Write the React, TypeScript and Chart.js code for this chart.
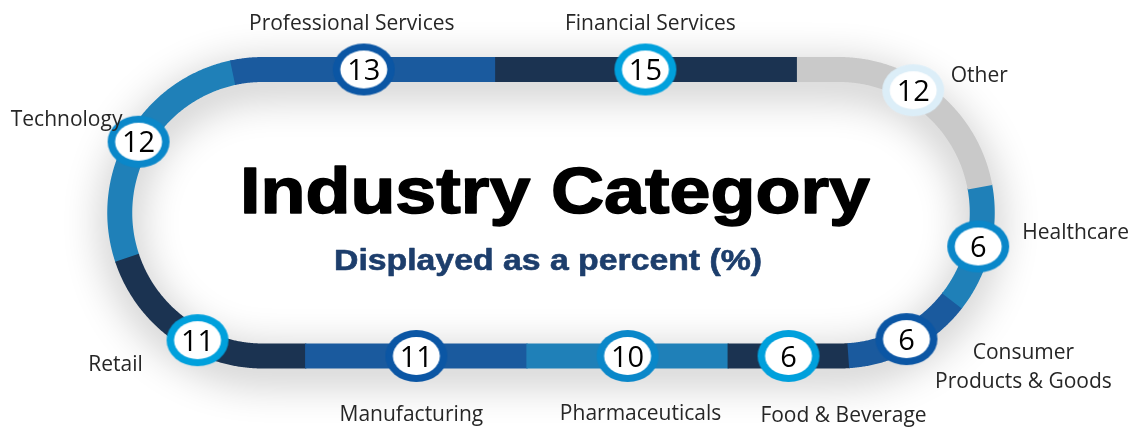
import React, { useEffect, useRef } from "react";
import { Chart, registerables } from "chart.js";

Chart.register(...registerables);

// ---------------- data ----------------
const categories: (string | string[])[] = [
  "Professional Services",
  "Financial Services",
  "Other",
  "Healthcare",
  ["Consumer", "Products & Goods"],
  "Food & Beverage",
  "Pharmaceuticals",
  "Manufacturing",
  "Retail",
  "Technology",
];
const values: number[] = [13, 15, 12, 6, 6, 6, 10, 11, 11, 12];

const titleText = "Industry Category";
const subtitleText = "Displayed as a percent (%)";

// ---------------- styles ----------------
const segmentColors = [
  "#1a5a9e", "#1b3351", "#c9c9c9", "#1f80b8", "#1a5a9e",
  "#1b3351", "#1f80b8", "#1a5a9e", "#1b3351", "#1f80b8",
];
const markerBorderColors = [
  "#0b56a4", "#00a0dc", "#dceef8", "#0a87c9", "#0b56a4",
  "#00a0dc", "#0a87c9", "#0b56a4", "#00a0dc", "#0a87c9",
];
// label placement relative to each marker (dx, dy of first baseline, alignment)
const labelOffsets: { dx: number; dy: number; align: CanvasTextAlign }[] = [
  { dx: -12, dy: -40, align: "center" },
  { dx: 5, dy: -40, align: "center" },
  { dx: 66, dy: -8, align: "center" },
  { dx: 44, dy: -7, align: "left" },
  { dx: 117, dy: 20, align: "center" },
  { dx: 55, dy: 66, align: "center" },
  { dx: 13, dy: 64, align: "center" },
  { dx: -5, dy: 65, align: "center" },
  { dx: -82, dy: 31, align: "center" },
  { dx: -72, dy: -16, align: "center" },
];

// track geometry (in scale units == pixels)
const W = 1133;
const H = 429;
const TRACK = { cxL: 263, cxR: 839, cy: 212.75, r: 143.25, width: 25, startOffset: -30 };

const STRAIGHT = TRACK.cxR - TRACK.cxL;
const ARC = Math.PI * TRACK.r;
const PERIM = 2 * STRAIGHT + 2 * ARC;

function pathPoint(sIn: number) {
  let s = ((sIn % PERIM) + PERIM) % PERIM;
  const { cxL, cxR, cy, r } = TRACK;
  if (s < STRAIGHT) return { x: cxL + s, y: cy - r };
  s -= STRAIGHT;
  if (s < ARC) {
    const t = s / r;
    return { x: cxR + r * Math.sin(t), y: cy - r * Math.cos(t) };
  }
  s -= ARC;
  if (s < STRAIGHT) return { x: cxR - s, y: cy + r };
  s -= STRAIGHT;
  const t = s / r;
  return { x: cxL - r * Math.sin(t), y: cy + r * Math.cos(t) };
}

function samplePath(s0: number, s1: number, step = 2) {
  const pts: { x: number; y: number }[] = [];
  const n = Math.max(2, Math.ceil((s1 - s0) / step));
  for (let i = 0; i <= n; i++) pts.push(pathPoint(s0 + ((s1 - s0) * i) / n));
  return pts;
}

function makeMarker(color: string) {
  const c = document.createElement("canvas");
  c.width = 64;
  c.height = 54;
  const g = c.getContext("2d")!;
  g.fillStyle = color;
  g.beginPath();
  g.ellipse(32, 27, 31, 26, 0, 0, Math.PI * 2);
  g.fill();
  g.fillStyle = "#ffffff";
  g.beginPath();
  g.ellipse(32, 27, 23.5, 19, 0, 0, Math.PI * 2);
  g.fill();
  return c;
}

export default function App() {
  const ref = useRef<HTMLCanvasElement | null>(null);

  useEffect(() => {
    document.body.style.margin = "0";
    const canvas = ref.current!;
    const total = values.reduce((a, b) => a + b, 0);
    const unit = PERIM / total;

    const segDatasets: any[] = [];
    const markerPts: { x: number; y: number }[] = [];
    let cum = 0;
    values.forEach((v, i) => {
      const s0 = TRACK.startOffset + cum * unit;
      const s1 = TRACK.startOffset + (cum + v) * unit;
      segDatasets.push({
        label: Array.isArray(categories[i]) ? (categories[i] as string[]).join(" ") : categories[i],
        data: samplePath(s0 - 0.6, s1 + 0.6),
        showLine: true,
        borderColor: segmentColors[i],
        backgroundColor: segmentColors[i],
        borderWidth: TRACK.width,
        borderCapStyle: "butt",
        borderJoinStyle: "round",
        pointRadius: 0,
        tension: 0.0001,
        clip: false,
        order: 1,
      });
      markerPts.push(pathPoint((s0 + s1) / 2));
      cum += v;
    });

    const baseTrack = {
      label: "track",
      data: samplePath(0, PERIM + 4),
      showLine: true,
      borderColor: "#6f7c88",
      borderWidth: TRACK.width - 2,
      borderJoinStyle: "round",
      pointRadius: 0,
      tension: 0.0001,
      clip: false,
      order: 2,
    };

    const markerDataset = {
      label: "markers",
      data: markerPts,
      pointStyle: markerBorderColors.map(makeMarker),
      pointRadius: 30,
      showLine: false,
      clip: false,
      order: 0,
    };

    const shadowPlugin = {
      id: "trackShadow",
      beforeDatasetDraw(chart: any, args: any) {
        if (chart.data.datasets[args.index].label === "track") {
          const ctx = chart.ctx;
          ctx.save();
          ctx.shadowColor = "rgba(0,0,0,0.32)";
          ctx.shadowBlur = 44;
          ctx.shadowOffsetY = 10;
        }
      },
      afterDatasetDraw(chart: any, args: any) {
        if (chart.data.datasets[args.index].label === "track") chart.ctx.restore();
      },
    };

    const textPlugin = {
      id: "texts",
      afterDatasetsDraw(chart: any) {
        const ctx: CanvasRenderingContext2D = chart.ctx;
        const idx = chart.data.datasets.findIndex((d: any) => d.label === "markers");
        const meta = chart.getDatasetMeta(idx);
        ctx.save();
        // numbers
        ctx.fillStyle = "#000000";
        ctx.font = '29px "Open Sans"';
        ctx.textAlign = "center";
        ctx.textBaseline = "alphabetic";
        meta.data.forEach((el: any, i: number) => {
          ctx.fillText(String(values[i]), el.x, el.y + 10.5);
        });
        // labels
        ctx.fillStyle = "#262626";
        ctx.font = '21px "Open Sans"';
        meta.data.forEach((el: any, i: number) => {
          const o = labelOffsets[i];
          ctx.textAlign = o.align;
          const lines = Array.isArray(categories[i]) ? (categories[i] as string[]) : [categories[i] as string];
          lines.forEach((ln, k) => ctx.fillText(ln, el.x + o.dx, el.y + o.dy + k * 29));
        });
        // title
        const fitText = (txt: string, font: string, color: string, cx: number, by: number, width: number, stroke: number) => {
          ctx.font = font;
          ctx.textAlign = "center";
          const w = ctx.measureText(txt).width;
          ctx.save();
          ctx.translate(cx, by);
          ctx.scale(width / w, 1);
          ctx.fillStyle = color;
          ctx.fillText(txt, 0, 0);
          if (stroke > 0) {
            ctx.strokeStyle = color;
            ctx.lineWidth = stroke;
            ctx.lineJoin = "round";
            ctx.strokeText(txt, 0, 0);
          }
          ctx.restore();
        };
        fitText(titleText, 'bold 65px "Liberation Sans"', "#000000", 555, 213, 630, 1.5);
        fitText(subtitleText, 'bold 29px "Liberation Sans"', "#1d3e6c", 548, 270, 428, 0.6);
        ctx.restore();
      },
    };

    const chart = new Chart(canvas, {
      type: "scatter",
      data: { datasets: [...segDatasets, baseTrack, markerDataset] as any },
      options: {
        animation: false,
        responsive: false,
        maintainAspectRatio: false,
        layout: { padding: 0, autoPadding: false },
        events: [],
        plugins: { legend: { display: false }, tooltip: { enabled: false }, title: { display: false } },
        scales: {
          x: { type: "linear", min: 0, max: W, display: false },
          y: { type: "linear", min: 0, max: H, reverse: true, display: false },
        },
      },
      plugins: [shadowPlugin, textPlugin],
    });
    return () => chart.destroy();
  }, []);

  return (
    <div style={{ width: W, height: H, background: "#ffffff" }}>
      <canvas ref={ref} width={W} height={H} />
    </div>
  );
}
